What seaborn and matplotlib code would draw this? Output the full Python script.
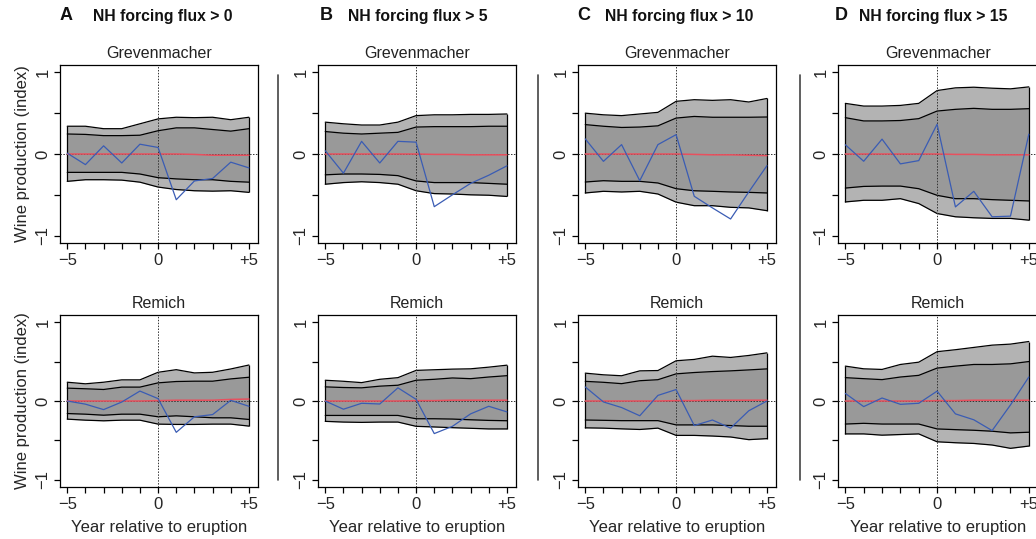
import matplotlib
matplotlib.use("Agg")
import matplotlib.pyplot as plt
from matplotlib.lines import Line2D
import numpy as np
import pandas as pd
import seaborn as sns

# ---------------- data ----------------
years = list(range(-5, 6))
panel_letters = ["A", "B", "C", "D"]
panel_titles = ["NH forcing flux > 0", "NH forcing flux > 5",
                "NH forcing flux > 10", "NH forcing flux > 15"]
sites = ["Grevenmacher", "Remich"]
x_tick_labels = {-5: "\u22125", 0: "0", 5: "+5"}
y_tick_labels = {-1: "\u22121", 0: "0", 1: "1"}

grev_outer_hi = [
    [0.34, 0.34, 0.31, 0.31, 0.37, 0.43, 0.45, 0.445, 0.45, 0.42, 0.45],
    [0.39, 0.37, 0.355, 0.355, 0.39, 0.47, 0.48, 0.48, 0.485, 0.485, 0.49],
    [0.50, 0.48, 0.47, 0.49, 0.51, 0.645, 0.665, 0.657, 0.665, 0.637, 0.68],
    [0.62, 0.587, 0.587, 0.595, 0.62, 0.777, 0.81, 0.818, 0.806, 0.798, 0.822],
]
grev_inner_hi = [
    [0.245, 0.24, 0.225, 0.225, 0.23, 0.285, 0.32, 0.32, 0.30, 0.28, 0.31],
    [0.275, 0.255, 0.245, 0.255, 0.265, 0.33, 0.335, 0.335, 0.335, 0.34, 0.34],
    [0.36, 0.34, 0.325, 0.33, 0.345, 0.44, 0.46, 0.45, 0.45, 0.45, 0.453],
    [0.445, 0.405, 0.405, 0.41, 0.433, 0.526, 0.547, 0.559, 0.547, 0.547, 0.555],
]
grev_inner_lo = [
    [-0.225, -0.225, -0.225, -0.225, -0.245, -0.29, -0.305, -0.315, -0.315, -0.335, -0.345],
    [-0.255, -0.245, -0.245, -0.25, -0.265, -0.33, -0.35, -0.35, -0.35, -0.36, -0.37],
    [-0.343, -0.327, -0.335, -0.335, -0.355, -0.425, -0.45, -0.457, -0.465, -0.47, -0.477],
    [-0.417, -0.397, -0.393, -0.393, -0.425, -0.506, -0.547, -0.547, -0.559, -0.567, -0.575],
]
grev_outer_lo = [
    [-0.335, -0.315, -0.315, -0.32, -0.345, -0.405, -0.435, -0.45, -0.455, -0.45, -0.47],
    [-0.37, -0.35, -0.34, -0.35, -0.37, -0.45, -0.485, -0.49, -0.50, -0.505, -0.52],
    [-0.477, -0.457, -0.465, -0.457, -0.49, -0.59, -0.633, -0.633, -0.653, -0.66, -0.694],
    [-0.587, -0.567, -0.567, -0.547, -0.607, -0.729, -0.769, -0.781, -0.789, -0.789, -0.81],
]
grev_observed = [
    [0.01, -0.13, 0.10, -0.11, 0.12, 0.08, -0.56, -0.33, -0.30, -0.10, -0.17],
    [0.04, -0.235, 0.155, -0.11, 0.155, 0.145, -0.645, -0.50, -0.36, -0.26, -0.145],
    [0.185, -0.09, 0.115, -0.327, 0.115, 0.237, -0.518, -0.66, -0.796, -0.465, -0.143],
    [0.113, -0.089, 0.182, -0.121, -0.081, 0.364, -0.648, -0.457, -0.769, -0.761, 0.243],
]
grev_mean = [
    [0, 0, 0, 0, 0, 0, 0, -0.005, -0.015, -0.015, -0.015],
    [0, 0, 0, 0, 0, 0, -0.005, -0.005, -0.01, -0.01, -0.01],
    [0, 0, 0, 0, 0, 0, -0.005, -0.01, -0.01, -0.015, -0.02],
    [0, 0, 0, 0, 0, 0, -0.005, -0.005, -0.01, -0.01, -0.01],
]

rem_outer_hi = [
    [0.238, 0.218, 0.238, 0.268, 0.268, 0.364, 0.397, 0.356, 0.364, 0.406, 0.456],
    [0.263, 0.25, 0.233, 0.275, 0.296, 0.388, 0.396, 0.404, 0.408, 0.429, 0.454],
    [0.353, 0.332, 0.32, 0.382, 0.386, 0.51, 0.527, 0.568, 0.552, 0.577, 0.61],
    [0.442, 0.408, 0.4, 0.463, 0.492, 0.625, 0.65, 0.679, 0.708, 0.721, 0.754],
]
rem_inner_hi = [
    [0.163, 0.155, 0.146, 0.176, 0.176, 0.23, 0.247, 0.251, 0.251, 0.28, 0.301],
    [0.179, 0.171, 0.167, 0.188, 0.2, 0.263, 0.275, 0.292, 0.283, 0.304, 0.321],
    [0.249, 0.237, 0.22, 0.257, 0.27, 0.344, 0.361, 0.373, 0.382, 0.394, 0.407],
    [0.296, 0.283, 0.271, 0.304, 0.325, 0.417, 0.442, 0.463, 0.463, 0.471, 0.5],
]
rem_inner_lo = [
    [-0.159, -0.167, -0.18, -0.167, -0.167, -0.2, -0.188, -0.2, -0.213, -0.213, -0.234],
    [-0.183, -0.183, -0.183, -0.183, -0.183, -0.225, -0.225, -0.229, -0.238, -0.246, -0.25],
    [-0.241, -0.245, -0.249, -0.249, -0.249, -0.303, -0.303, -0.303, -0.311, -0.32, -0.32],
    [-0.292, -0.283, -0.292, -0.292, -0.292, -0.354, -0.363, -0.371, -0.383, -0.404, -0.396],
]
rem_outer_lo = [
    [-0.23, -0.243, -0.251, -0.243, -0.243, -0.293, -0.297, -0.297, -0.293, -0.293, -0.318],
    [-0.258, -0.267, -0.271, -0.267, -0.267, -0.321, -0.329, -0.338, -0.346, -0.354, -0.354],
    [-0.34, -0.344, -0.353, -0.361, -0.344, -0.436, -0.436, -0.444, -0.456, -0.49, -0.477],
    [-0.417, -0.417, -0.433, -0.425, -0.417, -0.517, -0.529, -0.538, -0.558, -0.6, -0.571],
]
rem_observed = [
    [0.0, -0.04, -0.109, -0.013, 0.126, 0.03, -0.397, -0.2, -0.172, 0.008, -0.067],
    [0.0, -0.104, -0.029, -0.038, 0.167, 0.021, -0.413, -0.321, -0.163, -0.067, -0.138],
    [0.178, -0.012, -0.083, -0.187, 0.071, 0.145, -0.311, -0.241, -0.344, -0.124, 0.0],
    [0.096, -0.071, 0.038, -0.042, -0.029, 0.125, -0.163, -0.238, -0.375, -0.05, 0.304],
]
rem_mean = [
    [0, 0, 0, 0, 0, 0.005, 0.01, 0.01, 0.01, 0.02, 0.025],
    [0, 0, 0, 0, 0, 0.005, 0.005, 0.01, 0.01, 0.01, 0.01],
    [0, 0, 0, 0, 0, 0.005, 0.005, 0.01, 0.01, 0.01, 0.01],
    [0, 0, 0, 0, 0, 0.005, 0.005, 0.01, 0.01, 0.01, 0.01],
]

site_data = {
    "Grevenmacher": (grev_outer_hi, grev_inner_hi, grev_inner_lo, grev_outer_lo, grev_observed, grev_mean),
    "Remich": (rem_outer_hi, rem_inner_hi, rem_inner_lo, rem_outer_lo, rem_observed, rem_mean),
}

# ---------------- style ----------------
sns.set_theme(style="ticks")
plt.rcParams["font.family"] = ["Liberation Sans", "DejaVu Sans"]
plt.rcParams["axes.linewidth"] = 0.9
plt.rcParams["xtick.major.width"] = 0.9
plt.rcParams["ytick.major.width"] = 0.9

OUTER_C = "#b3b3b3"
INNER_C = "#999999"
BLUE = "#3a5cb4"
RED = "#e8505e"

W, H = 1036, 539
fig = plt.figure(figsize=(W / 100, H / 100), dpi=100)

col_left = [60, 318, 578, 838]
col_width = [198, 198, 198, 200]
row_top = [65, 315]
row_bottom = [243, 487]

for c in range(4):
    for r, site in enumerate(sites):
        l = col_left[c]
        ax = fig.add_axes([l / W, 1 - row_bottom[r] / H, col_width[c] / W,
                           (row_bottom[r] - row_top[r]) / H])
        ohi, ihi, ilo, olo, obs, mean = (s[c] for s in site_data[site])
        df = pd.DataFrame({"year": years, "ohi": ohi, "ihi": ihi, "ilo": ilo,
                           "olo": olo, "obs": obs, "mean": mean})
        ax.fill_between(df["year"], df["olo"], df["ohi"], color=OUTER_C, lw=0, zorder=1)
        ax.fill_between(df["year"], df["ilo"], df["ihi"], color=INNER_C, lw=0, zorder=2)
        for col in ["ohi", "ihi", "ilo", "olo"]:
            sns.lineplot(data=df, x="year", y=col, ax=ax, color="black", lw=0.9, zorder=3)
        ax.vlines([df["year"].iloc[0], df["year"].iloc[-1]], df["olo"].iloc[[0, -1]],
                  df["ohi"].iloc[[0, -1]], color="black", lw=0.9, zorder=3)
        ax.axhline(0, color="#333333", lw=0.7, ls=(0, (1.5, 1.5)), zorder=4)
        ax.axvline(0, color="#333333", lw=0.7, ls=(0, (1.5, 1.5)), zorder=4)
        sns.lineplot(data=df, x="year", y="mean", ax=ax, color=RED, lw=1.1, zorder=5)
        sns.lineplot(data=df, x="year", y="obs", ax=ax, color=BLUE, lw=0.9, zorder=6)

        ax.set_xlim(-5.4, 5.5)
        ax.set_ylim(-1.09, 1.09)
        ax.set_xticks(years)
        ax.set_xticklabels([x_tick_labels.get(y, "") for y in years], fontsize=12)
        yt = [-1, -0.5, 0, 0.5, 1]
        ax.set_yticks(yt)
        ax.set_yticklabels([y_tick_labels.get(v, "") for v in yt], fontsize=12,
                           rotation=90, va="center")
        ax.tick_params(axis="both", length=4, width=0.9, color="black", pad=3)
        for sp in ax.spines.values():
            sp.set_visible(True)
            sp.set_color("black")
        ax.set_facecolor("white")
        ax.set_xlabel("")
        ax.set_ylabel("")
        ax.set_title(site, fontsize=11.5, pad=5, color="#222222")
        if c == 0:
            ax.set_ylabel("Wine production (index)", fontsize=12, labelpad=4)
        if r == 1:
            ax.set_xlabel("Year relative to eruption", fontsize=12, labelpad=6)

# panel headers
letter_x = [60, 320, 577, 835]
title_x = [93, 348, 605, 859]
for c in range(4):
    fig.text(letter_x[c] / W, 1 - 16 / H, panel_letters[c], fontsize=13,
             fontweight="bold", va="center", ha="left", color="#111111")
    fig.text(title_x[c] / W, 1 - 16 / H, panel_titles[c],
             fontsize=11.3, fontweight="bold", va="center", ha="left", color="#111111")

# separators
for x in [278, 538, 800]:
    fig.add_artist(Line2D([x / W, x / W], [1 - 75 / H, 1 - 480 / H],
                          color="#444444", lw=1.2))

fig.savefig("out.png", dpi=100, facecolor="white")
